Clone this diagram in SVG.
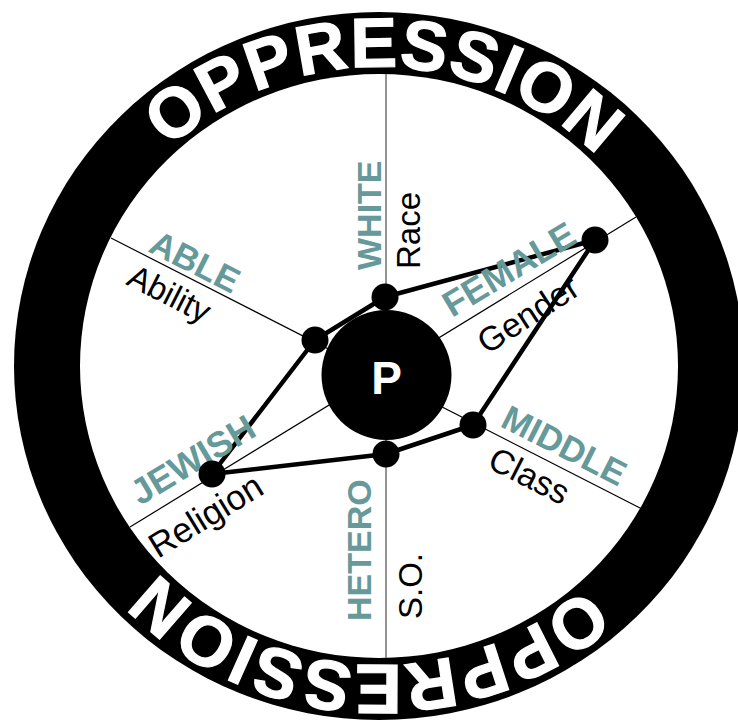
<svg xmlns="http://www.w3.org/2000/svg" width="738" height="723" viewBox="0 0 738 723">
  <style>
    .ring-text { font-family: "Liberation Sans", Arial, sans-serif; font-weight: bold; font-size: 70px; letter-spacing: 1px; fill: #ffffff; stroke: #ffffff; stroke-width: 1.2px; }
    .lbl { font-family: "Liberation Sans", Arial, sans-serif; font-weight: bold; font-size: 35px; fill: #669999; }
    .cat { font-family: "Liberation Sans", Arial, sans-serif; font-size: 33px; fill: #000000; }
    .spoke { stroke: #000000; stroke-width: 1.2; fill: none; }
    .spoke-v { stroke: #707070; stroke-width: 1.5; fill: none; }
    .edge { stroke: #000000; stroke-width: 4.5; fill: none; stroke-linejoin: round; }
    .dot { fill: #000000; }
  </style>
  <defs>
    <path id="arc" d="M 73,366 A 306,299 0 0 1 685,366 A 306,299 0 0 1 73,366"/>
  </defs>
  <rect x="0" y="0" width="738" height="723" fill="#ffffff"/>

  <g id="ring">
    <ellipse cx="379" cy="366" rx="365" ry="354" fill="#000000"/>
    <ellipse cx="379" cy="366" rx="299" ry="292" fill="#ffffff"/>
    <text class="ring-text"><textPath href="#arc" startOffset="25.3%" text-anchor="middle">OPPRESSION</textPath></text>
    <text class="ring-text"><textPath href="#arc" startOffset="75.6%" text-anchor="middle">OPPRESSION</textPath></text>
  </g>

  <g id="connectors">
    <line class="spoke-v" x1="386" y1="74" x2="386" y2="658"/>
    <line class="spoke" x1="111" y1="238" x2="642" y2="509"/>
    <line class="spoke" x1="130" y1="527" x2="636" y2="217"/>
    <polygon class="edge" points="315,340 385,297 595,240 473,425 386,454 212,474"/>
  </g>

  <g id="labels">
    <text class="lbl" style="font-size:34px" transform="translate(381,270) rotate(-90)">WHITE</text>
    <text class="cat" transform="translate(420,269) rotate(-90)">Race</text>
    <text class="lbl" style="font-size:34px" transform="translate(371,621) rotate(-90)">HETERO</text>
    <text class="cat" transform="translate(422,619) rotate(-90)">S.O.</text>
    <text class="lbl" transform="translate(147,251) rotate(26.9)">ABLE</text>
    <text class="cat" transform="translate(125,284) rotate(26.9)">Ability</text>
    <text class="lbl" transform="translate(499,426) rotate(26.9)">MIDDLE</text>
    <text class="cat" style="font-size:34px" transform="translate(486,467) rotate(26.9)">Class</text>
    <text class="lbl" style="font-size:36px" transform="translate(452,318) rotate(-31)">FEMALE</text>
    <text class="cat" style="font-size:34px" transform="translate(487,355) rotate(-33)">Gender</text>
    <text class="lbl" style="font-size:36px" transform="translate(140,506) rotate(-31)">JEWISH</text>
    <text class="cat" style="font-size:35px" transform="translate(158,559) rotate(-31.5)">Religion</text>
  </g>

  <g id="node-P">
    <circle cx="386.5" cy="375" r="65" fill="#000000"/>
    <text x="386.5" y="394" text-anchor="middle" style="font-family:'Liberation Sans',Arial,sans-serif;font-weight:bold;font-size:46px;fill:#ffffff">P</text>
  </g>
  <g id="node-race"><circle class="dot" cx="385" cy="297" r="13.5"/></g>
  <g id="node-ability"><circle class="dot" cx="315" cy="340" r="13.5"/></g>
  <g id="node-gender"><circle class="dot" cx="595" cy="240" r="13.5"/></g>
  <g id="node-class"><circle class="dot" cx="473" cy="425" r="13.5"/></g>
  <g id="node-so"><circle class="dot" cx="386" cy="454" r="13.5"/></g>
  <g id="node-religion"><circle class="dot" cx="212" cy="474" r="13.5"/></g>
</svg>
